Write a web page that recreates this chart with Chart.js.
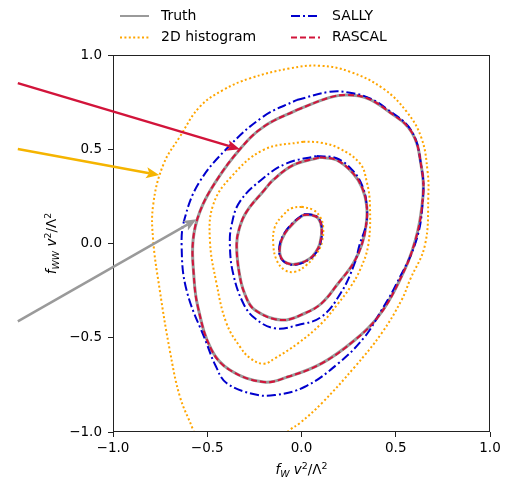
<!DOCTYPE html>
<html>
<head>
<meta charset="utf-8">
<script src="https://cdn.jsdelivr.net/npm/chart.js@4"></script>
<style>
html, body { margin: 0; padding: 0; background: #fff; }
</style>
</head>
<body>
<canvas id="mainChart" width="511" height="479"></canvas>
<script>
// contour levels as [f_W, f_WW] pairs
const truthInner = [[0.009,0.151],[0.054,0.151],[0.089,0.134],[0.107,0.082],[0.098,0.001],[0.076,-0.045],[0.045,-0.079],[-0.008,-0.105],[-0.062,-0.109],[-0.106,-0.079],[-0.115,-0.017],[-0.088,0.054],[-0.035,0.116],[0.009,0.151]];
const truthMiddle = [[0.098,0.457],[0.186,0.443],[0.274,0.372],[0.322,0.295],[0.346,0.2],[0.343,0.1],[0.319,-0.008],[0.275,-0.105],[0.195,-0.211],[0.107,-0.317],[0.018,-0.37],[-0.106,-0.406],[-0.247,-0.353],[-0.30,-0.27],[-0.33,-0.158],[-0.344,-0.008],[-0.33,0.08],[-0.291,0.169],[-0.2,0.28],[-0.15,0.337],[-0.044,0.416],[0.098,0.457]];
const truthOuter = [[-0.026,0.708],[0.151,0.775],[0.24,0.788],[0.346,0.772],[0.452,0.708],[0.585,0.59],[0.637,0.40],[0.645,0.257],[0.605,0.02],[0.513,-0.211],[0.407,-0.388],[0.283,-0.512],[0.107,-0.636],[-0.071,-0.707],[-0.2,-0.735],[-0.38,-0.671],[-0.477,-0.565],[-0.55,-0.335],[-0.572,-0.16],[-0.575,0.019],[-0.539,0.169],[-0.46,0.32],[-0.327,0.50],[-0.2,0.62],[-0.026,0.708]];

// RASCAL sits on top of the truth contours
const rascalInner = truthInner;
const rascalMiddle = truthMiddle;
const rascalOuter = truthOuter;

const sallyInner = [[0.012,0.155],[0.058,0.152],[0.092,0.132],[0.108,0.08],[0.1,0.0],[0.078,-0.048],[0.045,-0.082],[-0.01,-0.107],[-0.064,-0.11],[-0.108,-0.08],[-0.117,-0.015],[-0.09,0.056],[-0.035,0.12],[0.012,0.155]];
const sallyMiddle = [[0.08,0.464],[0.186,0.452],[0.274,0.385],[0.325,0.30],[0.346,0.2],[0.343,0.1],[0.31,0.0],[0.28,-0.11],[0.21,-0.26],[0.107,-0.388],[-0.018,-0.432],[-0.141,-0.45],[-0.247,-0.397],[-0.309,-0.317],[-0.363,-0.158],[-0.38,-0.008],[-0.371,0.098],[-0.327,0.222],[-0.203,0.346],[-0.079,0.425],[0.08,0.464]];
const sallyOuter = [[-0.026,0.761],[0.151,0.805],[0.257,0.80],[0.363,0.77],[0.452,0.715],[0.585,0.595],[0.637,0.40],[0.645,0.257],[0.61,0.02],[0.496,-0.229],[0.425,-0.353],[0.336,-0.494],[0.195,-0.636],[0.018,-0.76],[-0.141,-0.804],[-0.25,-0.80],[-0.398,-0.74],[-0.455,-0.65],[-0.504,-0.528],[-0.61,-0.247],[-0.636,-0.008],[-0.619,0.135],[-0.545,0.32],[-0.40,0.50],[-0.203,0.673],[-0.026,0.761]];

const histInner = [[0.001,0.195],[0.062,0.178],[0.098,0.142],[0.115,0.089],[0.107,0.001],[0.08,-0.052],[0.027,-0.114],[-0.035,-0.15],[-0.088,-0.141],[-0.132,-0.088],[-0.15,0.001],[-0.141,0.089],[-0.097,0.151],[-0.053,0.187],[0.001,0.195]];
const histMiddle = [[0.009,0.54],[0.1,0.535],[0.2,0.505],[0.31,0.425],[0.346,0.328],[0.363,0.204],[0.354,-0.008],[0.31,-0.141],[0.26,-0.23],[0.195,-0.317],[0.107,-0.423],[-0.018,-0.529],[-0.141,-0.609],[-0.2,-0.638],[-0.27,-0.61],[-0.327,-0.547],[-0.398,-0.423],[-0.451,-0.211],[-0.486,0.019],[-0.469,0.204],[-0.38,0.346],[-0.203,0.496],[0.009,0.54]];
const histOuter = [[-0.55,-1.07],[-0.575,-0.989],[-0.645,-0.813],[-0.699,-0.565],[-0.752,-0.247],[-0.787,0.019],[-0.787,0.204],[-0.734,0.416],[-0.645,0.567],[-0.539,0.726],[-0.416,0.814],[-0.274,0.876],[-0.062,0.929],[0.098,0.943],[0.257,0.911],[0.432,0.823],[0.558,0.699],[0.637,0.558],[0.669,0.381],[0.673,0.257],[0.655,-0.008],[0.575,-0.194],[0.531,-0.30],[0.425,-0.476],[0.283,-0.654],[0.107,-0.848],[-0.008,-0.952],[-0.062,-0.989],[-0.115,-1.04]];

const axisTicks = [-1.0, -0.5, 0.0, 0.5, 1.0];
const legendLabels = ['Truth', '2D histogram', 'SALLY', 'RASCAL'];

// annotation arrows [from, to] in data units
const arrowRascal = [[-1.505, 0.851], [-0.327, 0.500]];
const arrowHist = [[-1.505, 0.501], [-0.755, 0.363]];
const arrowTruth = [[-1.505, -0.413], [-0.557, 0.128]];

const styles = {
    truth:  { borderColor: '#9a9a9a', borderWidth: 3, borderDash: [] },
    hist:   { borderColor: '#ffa500', borderWidth: 2, borderDash: [2, 2.4] },
    sally:  { borderColor: '#0000cd', borderWidth: 2, borderDash: [9, 3, 2, 3] },
    rascal: { borderColor: '#d2143a', borderWidth: 2, borderDash: [6, 3] }
};

function contour(label, points, style, order) {
    return Object.assign({
        label: label,
        data: points.map(p => ({ x: p[0], y: p[1] })),
        showLine: true,
        pointRadius: 0,
        pointHoverRadius: 0,
        tension: 0.4,
        fill: false,
        order: order
    }, style);
}

const fontFam = '"DejaVu Sans", sans-serif';

function drawMath(ctx, parts, cx, baseY, size) {
    let w = 0;
    const items = parts.map(p => {
        const s = (p.sub || p.sup) ? size * 0.7 : size;
        const font = (p.it ? 'italic ' : '') + s + 'px ' + fontFam;
        ctx.font = font;
        const m = ctx.measureText(p.t).width;
        w += m;
        return { t: p.t, font: font, m: m, dy: p.sub ? size * 0.22 : (p.sup ? -size * 0.4 : 0) };
    });
    let x = cx - w / 2;
    ctx.textAlign = 'left';
    ctx.textBaseline = 'alphabetic';
    items.forEach(it => {
        ctx.font = it.font;
        ctx.fillText(it.t, x, baseY + it.dy);
        x += it.m;
    });
}

function drawArrow(ctx, x0, y0, x1, y1, color) {
    const a = Math.atan2(y1 - y0, x1 - x0);
    const len = 13, half = 5.5, notch = 10;
    const bx = x1 - Math.cos(a) * notch, by = y1 - Math.sin(a) * notch;
    ctx.strokeStyle = color;
    ctx.fillStyle = color;
    ctx.lineWidth = 2.5;
    ctx.setLineDash([]);
    ctx.beginPath();
    ctx.moveTo(x0, y0);
    ctx.lineTo(bx, by);
    ctx.stroke();
    ctx.beginPath();
    ctx.moveTo(x1, y1);
    ctx.lineTo(x1 - Math.cos(a) * len - Math.sin(a) * half, y1 - Math.sin(a) * len + Math.cos(a) * half);
    ctx.lineTo(bx, by);
    ctx.lineTo(x1 - Math.cos(a) * len + Math.sin(a) * half, y1 - Math.sin(a) * len - Math.cos(a) * half);
    ctx.closePath();
    ctx.fill();
}

const decorations = {
    id: 'decorations',
    afterDraw(chart) {
        const ctx = chart.ctx;
        const area = chart.chartArea;
        const sx = chart.scales.x, sy = chart.scales.y;
        ctx.save();

        // frame
        ctx.strokeStyle = '#222';
        ctx.lineWidth = 1;
        ctx.setLineDash([]);
        ctx.strokeRect(area.left + 0.5, area.top + 0.5, area.right - area.left - 1, area.bottom - area.top - 1);

        // arrows
        [[arrowRascal, '#d2143a'], [arrowHist, '#f5b400'], [arrowTruth, '#9a9a9a']].forEach(([ar, col]) => {
            drawArrow(ctx, sx.getPixelForValue(ar[0][0]), sy.getPixelForValue(ar[0][1]),
                sx.getPixelForValue(ar[1][0]), sy.getPixelForValue(ar[1][1]), col);
        });

        // axis titles
        ctx.fillStyle = '#000';
        drawMath(ctx, [{ t: 'f', it: true }, { t: 'W', it: true, sub: true }, { t: ' ' }, { t: 'v', it: true }, { t: '2', sup: true }, { t: '/Λ' }, { t: '2', sup: true }],
            (area.left + area.right) / 2, 474, 13.5);
        ctx.save();
        ctx.translate(56, (area.top + area.bottom) / 2);
        ctx.rotate(-Math.PI / 2);
        drawMath(ctx, [{ t: 'f', it: true }, { t: 'WW', it: true, sub: true }, { t: ' ' }, { t: 'v', it: true }, { t: '2', sup: true }, { t: '/Λ' }, { t: '2', sup: true }],
            0, 0, 13.5);
        ctx.restore();

        // legend, two columns
        const slots = [[120, 16], [120, 37.5], [291, 16], [291, 37.5]];
        const st = [styles.truth, styles.hist, styles.sally, styles.rascal];
        legendLabels.forEach((lab, i) => {
            const [lx, ly] = slots[i];
            ctx.strokeStyle = st[i].borderColor;
            ctx.lineWidth = i === 0 ? 2 : st[i].borderWidth;
            ctx.setLineDash(st[i].borderDash);
            ctx.beginPath();
            ctx.moveTo(lx, ly);
            ctx.lineTo(lx + 29, ly);
            ctx.stroke();
            ctx.setLineDash([]);
            ctx.fillStyle = '#000';
            ctx.font = '14px ' + fontFam;
            ctx.textAlign = 'left';
            ctx.textBaseline = 'middle';
            ctx.fillText(lab, lx + 41, ly);
        });
        ctx.restore();
    }
};

const tickFmt = v => v.toFixed(1).replace('-', '\u2212');

const ctx = document.getElementById('mainChart').getContext('2d');
const contourChart = new Chart(ctx, {
    type: 'scatter',
    data: {
        datasets: [
            contour('Truth', truthInner, styles.truth, 4),
            contour('Truth', truthMiddle, styles.truth, 4),
            contour('Truth', truthOuter, styles.truth, 4),
            contour('2D histogram', histInner, styles.hist, 3),
            contour('2D histogram', histMiddle, styles.hist, 3),
            contour('2D histogram', histOuter, styles.hist, 3),
            contour('SALLY', sallyInner, styles.sally, 2),
            contour('SALLY', sallyMiddle, styles.sally, 2),
            contour('SALLY', sallyOuter, styles.sally, 2),
            contour('RASCAL', rascalInner, styles.rascal, 1),
            contour('RASCAL', rascalMiddle, styles.rascal, 1),
            contour('RASCAL', rascalOuter, styles.rascal, 1)
        ]
    },
    options: {
        responsive: false,
        animation: false,
        layout: { padding: { top: 55, right: 21, left: 0, bottom: 0 } },
        plugins: {
            legend: { display: false },
            tooltip: { enabled: false }
        },
        scales: {
            x: {
                type: 'linear',
                min: -1,
                max: 1,
                afterBuildTicks: s => { s.ticks = axisTicks.map(v => ({ value: v })); },
                afterFit: s => { s.height = 47; },
                border: { display: false },
                grid: { drawOnChartArea: false, drawTicks: true, tickLength: 5, color: '#222', tickWidth: 1 },
                ticks: { callback: tickFmt, color: '#000', padding: 3, maxRotation: 0, font: { family: 'DejaVu Sans', size: 13.5 } }
            },
            y: {
                type: 'linear',
                min: -1,
                max: 1,
                afterBuildTicks: s => { s.ticks = axisTicks.map(v => ({ value: v })); },
                afterFit: s => { s.width = 113; },
                border: { display: false },
                grid: { drawOnChartArea: false, drawTicks: true, tickLength: 5, color: '#222', tickWidth: 1 },
                ticks: { callback: tickFmt, color: '#000', padding: 6, font: { family: 'DejaVu Sans', size: 13.5 } }
            }
        }
    },
    plugins: [decorations]
});
</script>
</body>
</html>
